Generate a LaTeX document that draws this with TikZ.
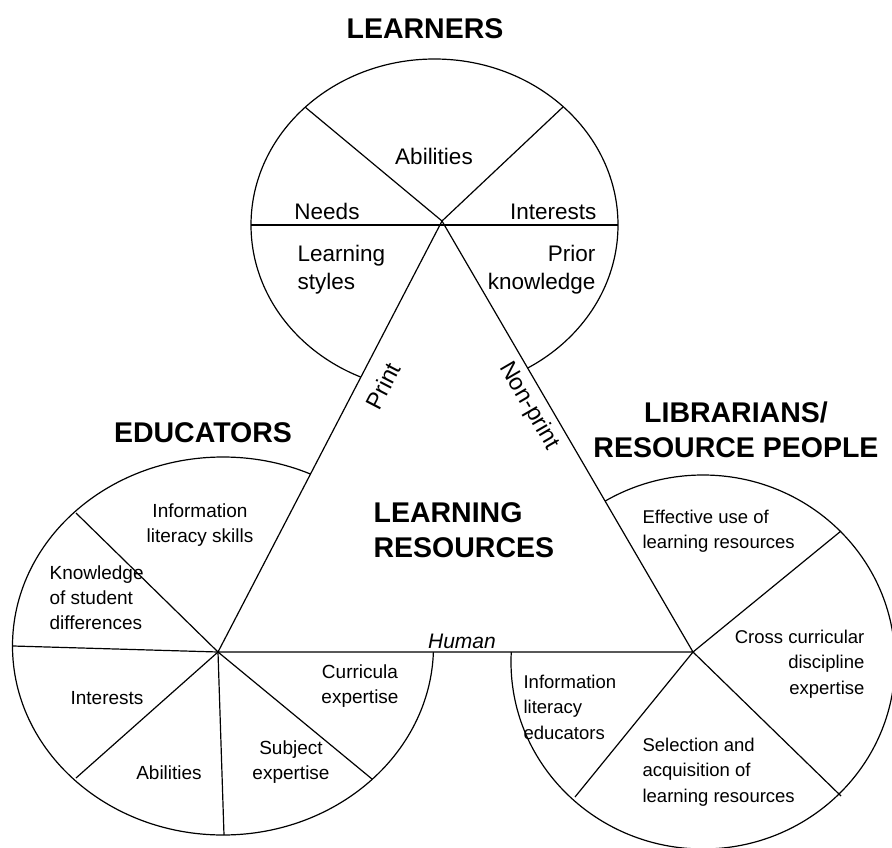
\documentclass[tikz,border=0pt]{standalone}
\usepackage{fontspec}
\setmainfont{Liberation Sans}
\begin{document}
\begin{tikzpicture}[x=1pt,y=-1pt,line width=1.2pt,
    title/.style={font=\fontsize{28.5}{35}\selectfont\bfseries,inner sep=0pt},
    lrntext/.style={font=\fontsize{22.5}{28}\selectfont,inner sep=0pt},
    edutext/.style={font=\fontsize{19}{25}\selectfont,inner sep=0pt},
    libtext/.style={font=\fontsize{18.5}{25.5}\selectfont,inner sep=0pt},
    sidetext/.style={font=\fontsize{23.5}{28}\selectfont,inner sep=0pt}]
    
\useasboundingbox (0,0) rectangle (892,848);
\coordinate (top) at (442,221);
\coordinate (bl) at (218,652);
\coordinate (br) at (693,652);
\draw (434.5,225) ellipse [x radius=183.5pt, y radius=166pt];
\draw (223,646) ellipse [x radius=210.5pt, y radius=189pt];
\draw (703,662) ellipse [x radius=192pt, y radius=187pt];
\filldraw[fill=white] (top) -- (bl) -- (br) -- cycle;
\coordinate (lrnW) at (251,225);
\coordinate (lrnE) at (618,225);
\coordinate (lrnNW) at (305,107);
\coordinate (lrnNE) at (563,107);
\draw (lrnW) -- (lrnE);
\draw (top) -- (lrnNW);
\draw (top) -- (lrnNE);
\coordinate (eduNW) at (76,513);
\coordinate (eduW) at (13,646);
\coordinate (eduSW) at (76,778);
\coordinate (eduS) at (224,835);
\coordinate (eduSE) at (372,779);
\foreach \p in {eduNW,eduW,eduSW,eduS,eduSE}
    \draw (bl) -- (\p);
\coordinate (libNE) at (841,531);
\coordinate (libSE) at (841,796);
\coordinate (libSW) at (575,797);
\foreach \p in {libNE,libSE,libSW}
    \draw (br) -- (\p);
\node[title,anchor=base] (learners) at (425,39) {LEARNERS};
\node[title,anchor=base] (educators) at (203,442) {EDUCATORS};
\node[title,align=center] (librarians) at (736,430) {LIBRARIANS/\\RESOURCE PEOPLE};
\node[title,align=left,anchor=west] (resources) at (373,530) {LEARNING\\RESOURCES};
\node[lrntext,anchor=base] (lrnabil) at (434,165) {Abilities};
\node[lrntext,anchor=base] (needs) at (327,219) {Needs};
\node[lrntext,anchor=base east] (lrnint) at (597,219) {Interests};
\node[lrntext,align=left,anchor=west] (styles) at (297,270) {Learning\\styles};
\node[lrntext,align=right,anchor=east] (prior) at (596,270) {Prior\\knowledge};
\node[edutext,align=center] (infoskills) at (200,525) {Information\\literacy skills};
\node[edutext,align=left,anchor=west] (knowledge) at (49,598) {Knowledge\\of student\\differences};
\node[edutext,anchor=base] (eduint) at (107,704) {Interests};
\node[edutext,anchor=base] (eduabil) at (169,779) {Abilities};
\node[edutext,align=center] (subject) at (291,762) {Subject\\expertise};
\node[edutext,align=center] (curricula) at (360,686) {Curricula\\expertise};
\node[libtext,align=left,anchor=west] (effective) at (642,531) {Effective use of\\learning resources};
\node[libtext,align=right,anchor=east] (cross) at (865,664) {Cross curricular\\discipline\\expertise};
\node[libtext,align=left,anchor=west] (infoedu) at (523,707) {Information\\literacy\\educators};
\node[libtext,align=left,anchor=west] (selection) at (642,772) {Selection and\\acquisition of\\learning resources};
\node[sidetext,rotate=62.6] (print) at (383,386) {Print};
\node[sidetext,rotate=-59.8] (nonprint) at (529,406) {Non-print};
\node[anchor=base,inner sep=0pt,font=\fontsize{21}{25}\selectfont\itshape] (human) at (462,648) {Human};
\end{tikzpicture}
\end{document}
